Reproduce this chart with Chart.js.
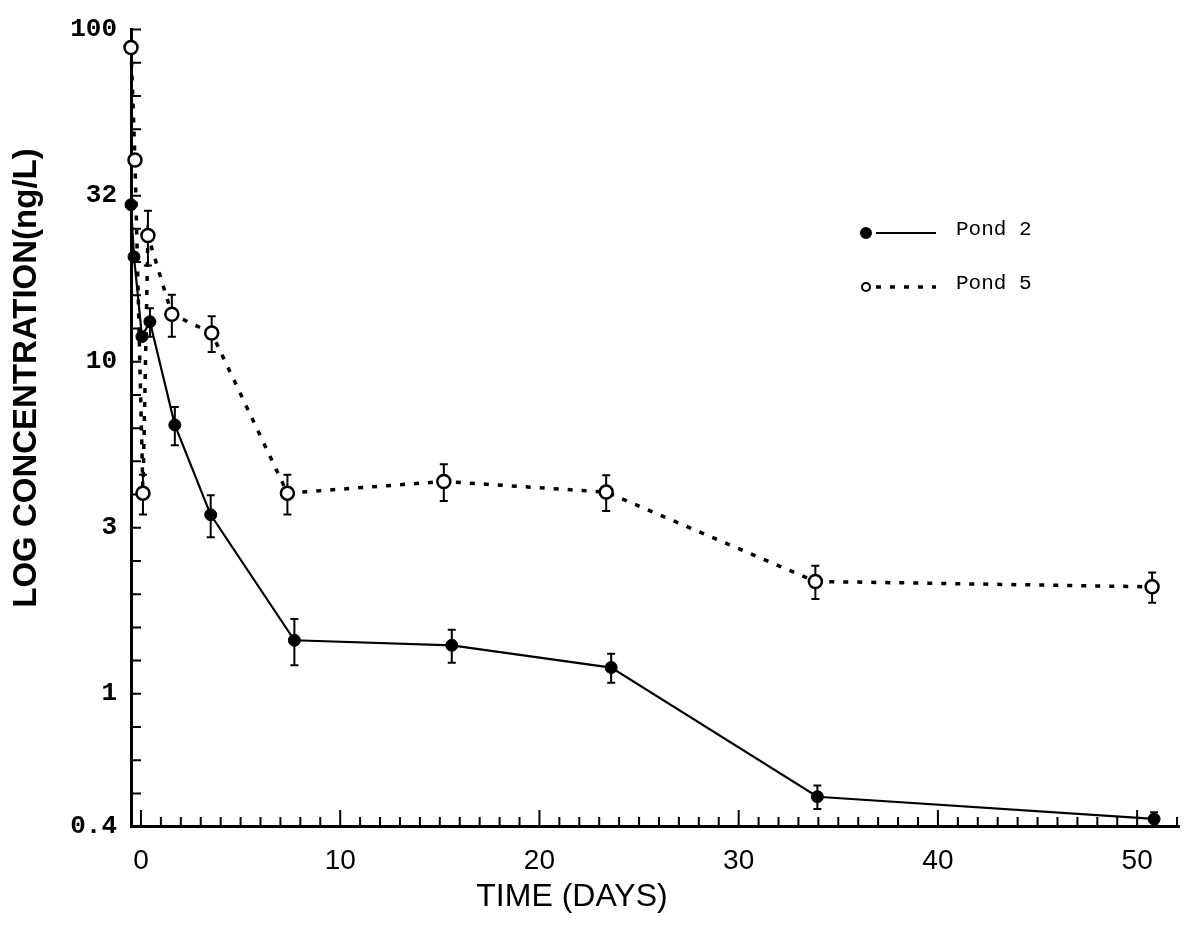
<!DOCTYPE html>
<html>
<head>
<meta charset="utf-8">
<script src="https://cdn.jsdelivr.net/npm/chart.js@4.4.0/dist/chart.umd.min.js"></script>
<style>
  html, body { margin: 0; padding: 0; background: #fff; }
  #wrap { width: 1188px; height: 933px; }
</style>
</head>
<body>
<div id="wrap"><canvas id="chart"></canvas></div>
<script>
// concentration (ng/L) vs. days, mean and error per sample
var pond2Days = [-0.5, -0.35, 0.05, 0.45, 1.7, 3.5, 7.7, 15.6, 23.6, 33.95, 50.85];
var pond2Conc = [29.7, 20.7, 11.9, 13.2, 6.45, 3.46, 1.45, 1.40, 1.20, 0.49, 0.42];
var pond2Err  = [0, 0, 0, 1.3, 0.85, 0.5, 0.23, 0.16, 0.12, 0.04, 0.02];

var pond5Days = [-0.5, -0.3, 0.1, 0.35, 1.55, 3.55, 7.35, 15.2, 23.35, 33.85, 50.75];
var pond5Conc = [88.3, 40.5, 4.02, 24.0, 13.9, 12.2, 4.02, 4.36, 4.05, 2.18, 2.10];
var pond5Err  = [0, 0, 0.55, 4.5, 2.0, 1.5, 0.55, 0.55, 0.5, 0.25, 0.22];

var xTicks = [0, 10, 20, 30, 40, 50];
var yTicks = [100, 31.62, 10, 3.162, 1, 0.4];
var yTickLabels = ['100', '32', '10', '3', '1', '0.4'];

var xTitle = 'TIME (DAYS)';
var yTitle = 'LOG CONCENTRATION(ng/L)';

function toPoints(xs, ys) {
  var pts = [];
  for (var i = 0; i < xs.length; i++) pts.push({x: xs[i], y: ys[i]});
  return pts;
}

// little inward tick marks on both axes
var axisMarks = {
  id: 'axisMarks',
  beforeDatasetsDraw: function(chart) {
    var c = chart.ctx, a = chart.chartArea, xs = chart.scales.x, ys = chart.scales.y;
    c.save();
    c.strokeStyle = '#000';
    c.lineWidth = 2;
    c.beginPath();
    for (var d = 0; d <= 52; d++) {
      var px = xs.getPixelForValue(d);
      c.moveTo(px, a.bottom);
      c.lineTo(px, a.bottom - (d % 10 === 0 ? 16 : 9));
    }
    for (var k = -3; k <= 20; k++) {
      var py = ys.getPixelForValue(Math.pow(10, k / 10));
      c.moveTo(a.left, py);
      c.lineTo(a.left + 10, py);
    }
    c.stroke();
    c.restore();
  }
};

// vertical error bars with caps, under the markers
var errorBars = {
  id: 'errorBars',
  beforeDatasetsDraw: function(chart) {
    var c = chart.ctx, ys = chart.scales.y;
    chart.data.datasets.forEach(function(ds, i) {
      var meta = chart.getDatasetMeta(i);
      c.save();
      c.strokeStyle = '#000';
      c.lineWidth = 2;
      meta.data.forEach(function(pt, j) {
        var e = ds.errors[j];
        if (!e) return;
        var v = ds.data[j].y;
        var top = ys.getPixelForValue(v + e);
        var bot = ys.getPixelForValue(v - e);
        c.beginPath();
        c.moveTo(pt.x, top); c.lineTo(pt.x, bot);
        c.moveTo(pt.x - 4, top); c.lineTo(pt.x + 4, top);
        c.moveTo(pt.x - 4, bot); c.lineTo(pt.x + 4, bot);
        c.stroke();
      });
      c.restore();
    });
  }
};

// axis titles and the key
var labels = {
  id: 'labels',
  afterDraw: function(chart) {
    var c = chart.ctx;
    c.save();
    c.fillStyle = '#000';
    c.strokeStyle = '#000';
    c.textBaseline = 'middle';

    c.save();
    c.translate(27, 378);
    c.rotate(-Math.PI / 2);
    c.font = 'bold 33px "Liberation Sans"';
    c.textAlign = 'center';
    c.fillText(yTitle, 0, 0);
    c.restore();

    c.font = '32px "Liberation Sans"';
    c.textAlign = 'center';
    c.fillText(xTitle, 572, 897);

    // key
    var rows = [233, 287];
    var dots = [5, 4];
    chart.data.datasets.forEach(function(ds, i) {
      var y = rows[i];
      c.lineWidth = ds.borderWidth;
      c.setLineDash(ds.borderDash || []);
      c.beginPath();
      c.moveTo(876, y);
      c.lineTo(936, y);
      c.stroke();
      c.setLineDash([]);
      c.beginPath();
      c.arc(866, y, dots[i], 0, Math.PI * 2);
      c.fillStyle = ds.pointBackgroundColor;
      c.fill();
      c.lineWidth = 2;
      c.stroke();
      c.fillStyle = '#000';
      c.font = '21px "Liberation Mono"';
      c.textAlign = 'left';
      c.fillText(ds.label, 956, y - 4);
    });
    c.restore();
  }
};

var ctx = document.getElementById('chart').getContext('2d');

var chart = new Chart(ctx, {
  type: 'line',
  data: {
    datasets: [
      {
        label: 'Pond 2',
        data: toPoints(pond2Days, pond2Conc),
        errors: pond2Err,
        borderColor: '#000',
        borderWidth: 2.2,
        pointRadius: 6,
        pointBackgroundColor: '#000',
        pointBorderColor: '#000',
        pointBorderWidth: 1,
        tension: 0,
        fill: false,
        clip: false
      },
      {
        label: 'Pond 5',
        data: toPoints(pond5Days, pond5Conc),
        errors: pond5Err,
        borderColor: '#000',
        borderWidth: 3.5,
        borderDash: [5, 9],
        pointRadius: 6.5,
        pointBackgroundColor: '#fff',
        pointBorderColor: '#000',
        pointBorderWidth: 2.5,
        tension: 0,
        fill: false,
        clip: false
      }
    ]
  },
  plugins: [axisMarks, errorBars, labels],
  options: {
    responsive: true,
    maintainAspectRatio: false,
    animation: false,
    layout: {
      padding: { left: 31, right: 5, top: 20, bottom: 0 }
    },
    plugins: {
      legend: { display: false },
      tooltip: { enabled: false }
    },
    scales: {
      x: {
        type: 'linear',
        min: -0.5,
        max: 52.1,
        grid: { display: false, drawTicks: false },
        border: { display: true, color: '#000', width: 3 },
        ticks: {
          color: '#000',
          padding: 18,
          maxRotation: 0,
          autoSkip: false,
          font: { family: 'Liberation Sans', size: 28 }
        },
        afterBuildTicks: function(s) {
          s.ticks = xTicks.map(function(v) { return {value: v}; });
        },
        afterFit: function(s) { s.height = 107; }
      },
      y: {
        type: 'logarithmic',
        min: 0.4,
        max: 100,
        grid: { display: false, drawTicks: false },
        border: { display: true, color: '#000', width: 3 },
        ticks: {
          color: '#000',
          padding: 14,
          autoSkip: false,
          font: { family: 'Liberation Mono', size: 26, weight: 'bold' },
          callback: function(v, i) { return yTickLabels[i]; }
        },
        afterBuildTicks: function(s) {
          s.ticks = yTicks.map(function(v) { return {value: v}; });
        },
        afterFit: function(s) { s.width = 100; }
      }
    }
  }
});
</script>
</body>
</html>
